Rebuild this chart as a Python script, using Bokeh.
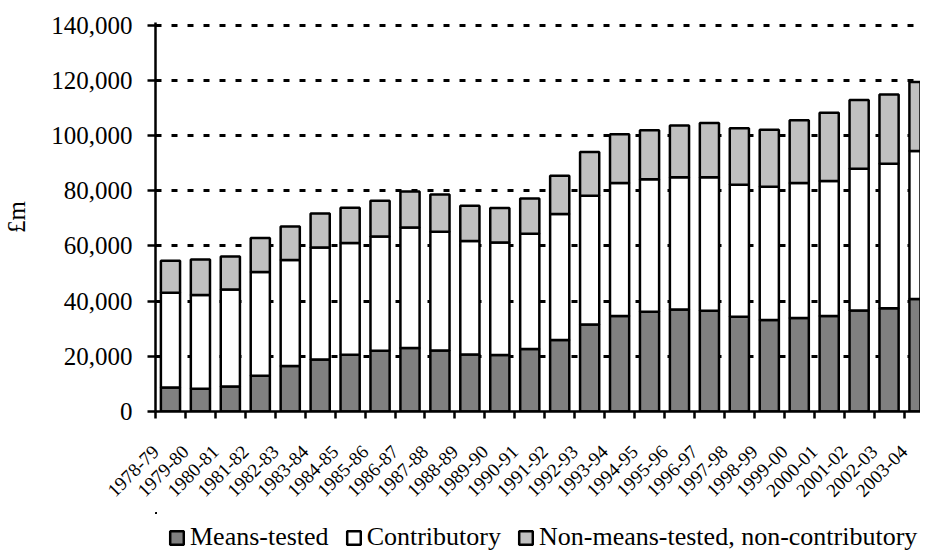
import math
from bokeh.plotting import figure
from bokeh.layouts import column
from bokeh.models import ColumnDataSource, Range1d, FixedTicker, NumeralTickFormatter, Legend, LegendItem
from bokeh.embed import file_html
from bokeh.resources import INLINE

years = ["1978-79", "1979-80", "1980-81", "1981-82", "1982-83", "1983-84", "1984-85",
         "1985-86", "1986-87", "1987-88", "1988-89", "1989-90", "1990-91", "1991-92",
         "1992-93", "1993-94", "1994-95", "1995-96", "1996-97", "1997-98", "1998-99",
         "1999-00", "2000-01", "2001-02", "2002-03", "2003-04"]
means_tested = [8700, 8230, 9070, 12950, 16460, 18860, 20560, 22010, 22980, 22130, 20680,
                20450, 22620, 25930, 31560, 34590, 36170, 36970, 36500, 34350, 33150,
                33880, 34590, 36650, 37380, 40810]
contributory = [34350, 33970, 35170, 37600, 38440, 40610, 40510, 41450, 43750, 43040, 41120,
                40840, 41820, 45670, 46680, 48250, 47980, 47910, 48380, 47880, 48350,
                48960, 48970, 51350, 52440, 53620]
non_means_non_contrib = [11600, 12920, 11960, 12330, 12190, 12330, 12800, 12950, 13050, 13520,
                         12800, 12430, 12800, 13850, 15830, 17690, 17810, 18780, 19690, 20410,
                         20660, 22700, 24760, 24920, 25040, 25030]
series_names = ["Means-tested", "Contributory", "Non-means-tested, non-contributory"]
y_ticks = [0, 20000, 40000, 60000, 80000, 100000, 120000, 140000]

FONT = "Liberation Serif"
FILLS = ["#808080", "#FFFFFF", "#C0C0C0"]

positions = [i + 0.5 for i in range(len(years))]
source = ColumnDataSource(dict(x=positions, mt=means_tested, co=contributory,
                               nm=non_means_non_contrib))

p = figure(width=920, height=512, output_backend="svg", toolbar_location=None,
           x_range=Range1d(0, 25.55), y_range=Range1d(0, 141000),
           min_border_left=147, min_border_right=0, min_border_top=22, min_border_bottom=101)
p.outline_line_color = None
p.background_fill_color = "white"
p.border_fill_color = "white"

p.xgrid.visible = False
p.ygrid.ticker = FixedTicker(ticks=y_ticks)
p.ygrid.grid_line_color = "black"
p.ygrid.grid_line_width = 3
p.ygrid.grid_line_dash = "6 10"

p.vbar_stack(["mt", "co", "nm"], x="x", width=0.64, source=source,
             fill_color=FILLS, line_color="black", line_width=2.5)

# y axis
p.yaxis.ticker = FixedTicker(ticks=y_ticks)
p.yaxis.formatter = NumeralTickFormatter(format="0,0")
p.yaxis.axis_label = "£m"
p.yaxis.axis_label_text_font = FONT
p.yaxis.axis_label_text_font_size = "25px"
p.yaxis.axis_label_text_font_style = "normal"
p.yaxis.axis_label_text_color = "black"
p.yaxis.axis_label_standoff = 18
p.yaxis.major_label_text_font = FONT
p.yaxis.major_label_text_font_size = "25px"
p.yaxis.major_label_text_color = "black"
p.yaxis.major_label_standoff = 15
p.yaxis.major_tick_out = 8
p.yaxis.major_tick_in = 0
p.yaxis.minor_tick_line_color = None
p.yaxis.axis_line_width = 2.5
p.yaxis.major_tick_line_width = 2.5
p.yaxis.axis_line_color = "black"
p.yaxis.major_tick_line_color = "black"

# x axis: ticks on the category boundaries, label at each boundary
p.xaxis.ticker = FixedTicker(ticks=list(range(len(years))))
p.xaxis.major_label_overrides = {i: y for i, y in enumerate(years)}
p.xaxis.major_label_orientation = math.pi / 4
p.xaxis.major_label_text_font = FONT
p.xaxis.major_label_text_font_size = "19px"
p.xaxis.major_label_text_color = "black"
p.xaxis.major_label_standoff = 30
p.xaxis.major_tick_out = 7
p.xaxis.major_tick_in = 0
p.xaxis.minor_tick_line_color = None
p.xaxis.axis_line_width = 2.5
p.xaxis.major_tick_line_width = 2.5
p.xaxis.axis_line_color = "black"
p.xaxis.major_tick_line_color = "black"

# legend strip under the chart (its own bars are kept out of view)
lf = figure(width=920, height=40, output_backend="svg", toolbar_location=None,
            x_range=Range1d(100, 101), y_range=Range1d(-2, -1),
            x_axis_location=None, y_axis_location=None,
            min_border_left=147, min_border_right=0, min_border_top=0, min_border_bottom=0)
lf.grid.visible = False
lf.outline_line_color = None
lf.background_fill_color = "white"
lf.border_fill_color = "white"
key_renderers = lf.vbar_stack(["mt", "co", "nm"], x="x", width=0.64, source=source,
                              fill_color=FILLS, line_color="black", line_width=2.5)
lg = Legend(items=[LegendItem(label=n, renderers=[r]) for n, r in zip(series_names, key_renderers)])
lg.orientation = "horizontal"
lg.location = (13, 0)
lg.padding = 0
lg.margin = 0
lg.spacing = 16
lg.label_standoff = 5
lg.glyph_width = 17
lg.glyph_height = 17
lg.label_text_font = FONT
lg.label_text_font_size = "26px"
lg.label_text_color = "black"
lg.border_line_color = None
lg.background_fill_alpha = 0
lg.label_height = 24
lf.add_layout(lg, "center")

layout = column(p, lf, spacing=0)
open("out.html", "w").write(file_html(layout, INLINE))
